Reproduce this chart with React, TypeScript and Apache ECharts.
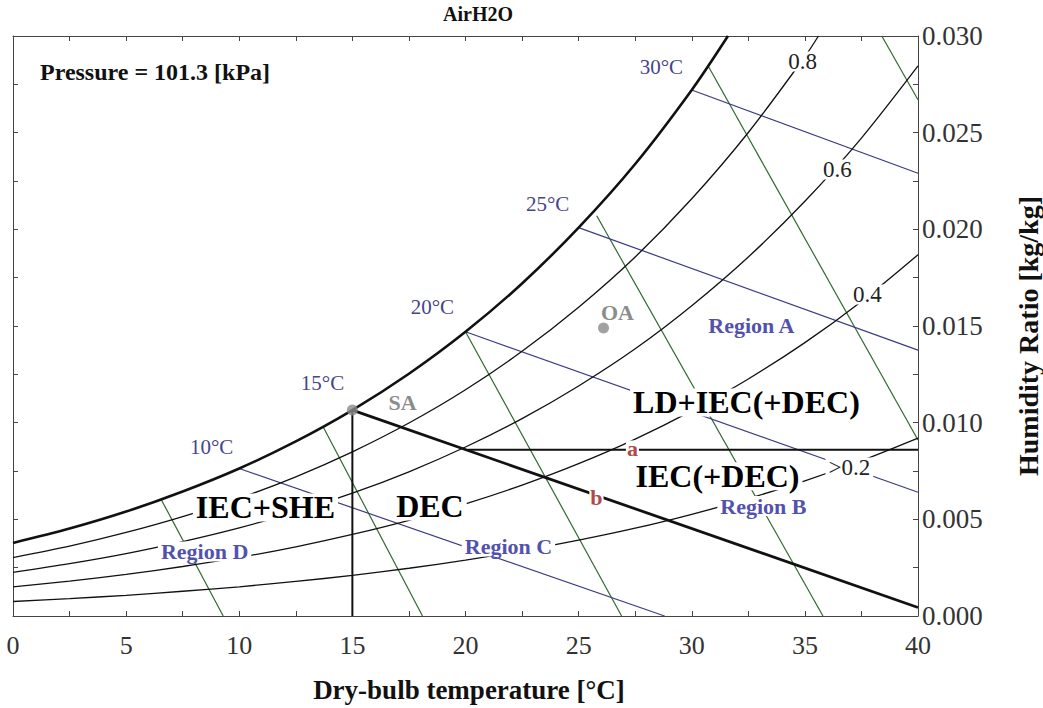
import React, { useEffect, useRef } from "react";
import * as echarts from "echarts";

const FONT = '"Liberation Serif", "Times New Roman", serif';

// ---- Saturation curve (RH = 1.0) ----
const satT = [0, 2.5, 5, 7.5, 10, 12.5, 15, 17.5, 20, 22.5, 25, 27.5, 30, 31.6];
const satW = [0.00378, 0.00452, 0.0054, 0.00644, 0.00763, 0.00903, 0.01065, 0.01253, 0.0147, 0.0172, 0.02009, 0.02338, 0.02721, 0.03];

// ---- Relative humidity curves ----
const rhT = [0, 2.5, 5, 7.5, 10, 12.5, 15, 17.5, 20, 22.5, 25, 27.5, 30, 32.5, 35, 37.5, 40];
const rh80T = [0, 2.5, 5, 7.5, 10, 12.5, 15, 17.5, 20, 22.5, 25, 27.5, 30, 32.5, 35, 35.6];
const rh80W = [0.00302, 0.00361, 0.00432, 0.00514, 0.00609, 0.0072, 0.00849, 0.00998, 0.0117, 0.01369, 0.01597, 0.01857, 0.02158, 0.02501, 0.02893, 0.03];
const rh60W = [0.00226, 0.00271, 0.00323, 0.00385, 0.00456, 0.00539, 0.00635, 0.00746, 0.00874, 0.01021, 0.0119, 0.01382, 0.01605, 0.01857, 0.02145, 0.02472, 0.02845];
const rh40W = [0.00151, 0.0018, 0.00215, 0.00256, 0.00303, 0.00358, 0.00422, 0.00495, 0.0058, 0.00677, 0.00788, 0.00915, 0.01061, 0.01226, 0.01414, 0.01627, 0.01868];
const rh20W = [0.00075, 0.0009, 0.00107, 0.00128, 0.00151, 0.00179, 0.0021, 0.00247, 0.00289, 0.00337, 0.00392, 0.00454, 0.00526, 0.00607, 0.00699, 0.00803, 0.0092];

// ---- Wet-bulb lines (blue) ----
const wb10 = [[10, 0.00763], [28.8, 0]];
const wb20 = [[20, 0.0147], [40, 0.0064]];
const wb25 = [[25, 0.02009], [40, 0.01375]];
const wb30 = [[30, 0.02721], [40, 0.0229]];

// ---- Specific volume lines (green) ----
const v800 = [[6.55, 0.00603], [9.29, 0]];
const v825 = [[13.7, 0.0098], [18.1, 0]];
const v850 = [[20.0, 0.0147], [26.9, 0]];
const v875 = [[25.8, 0.0207], [35.8, 0]];
const v900 = [[30.75, 0.0284], [40, 0.0091]];
const v925 = [[38.4, 0.03], [40, 0.0267]];

// ---- Process lines ----
const saLine = [[15, 0.01065], [40, 0.00044]];
const verticalLine = [[15, 0.01065], [15, 0]];
const horizontalLine = [[20.1, 0.0086], [40, 0.0086]];

// ---- State points ----
const statePoints = [
  { name: "SA", value: [15, 0.01065] },
  { name: "OA", value: [26.1, 0.0149] },
];

// ---- Text annotations (data coordinates) ----
const bigLabels = [
  { name: "IEC+SHE", value: [11.18, 0.00559] },
  { name: "DEC", value: [18.45, 0.00564] },
  { name: "LD+IEC(+DEC)", value: [32.44, 0.01102] },
  { name: "IEC(+DEC)", value: [31.16, 0.0072] },
];
const regionLabels = [
  { name: "Region A", value: [32.66, 0.0150] },
  { name: "Region B", value: [33.19, 0.00566] },
  { name: "Region C", value: [21.92, 0.00357] },
  { name: "Region D", value: [8.49, 0.00331] },
];
const pointLetters = [
  { name: "a", value: [27.4, 0.00864] },
  { name: "b", value: [25.81, 0.0061] },
];
const stateLabels = [
  { name: "SA", value: [17.24, 0.01102] },
  { name: "OA", value: [26.74, 0.01567] },
];
const rhLabels = [
  { name: "0.8", value: [34.92, 0.02866] },
  { name: "0.6", value: [36.46, 0.02307] },
  { name: "0.4", value: [37.79, 0.0166] },
  { name: ">0.2", value: [36.99, 0.00766] },
];
const wbLabels = [
  { name: "10°C", value: [8.8, 0.00869] },
  { name: "15°C", value: [13.7, 0.01205] },
  { name: "20°C", value: [18.56, 0.01598] },
  { name: "25°C", value: [23.65, 0.02126] },
  { name: "30°C", value: [28.68, 0.02835] },
];

const xTicks = [0, 5, 10, 15, 20, 25, 30, 35, 40];

const zip = (xs: number[], ys: number[]) => xs.map((x, i) => [x, ys[i]]);

const BLACK = "#111";
const BLUE = "#3b3b85";
const GREEN = "#2f6a2f";

function lineSeries(data: number[][], color: string, width: number, smooth = false) {
  return {
    type: "line",
    data,
    symbol: "none",
    showSymbol: false,
    smooth: smooth ? 0.3 : false,
    lineStyle: { color, width },
    silent: true,
    z: 2,
  };
}

function labelSeries(data: any[], style: any) {
  return {
    type: "scatter",
    data,
    symbolSize: 1,
    itemStyle: { color: "#fff", opacity: 0 },
    silent: true,
    z: 10,
    label: {
      show: true,
      position: [0, 0],
      align: "center",
      verticalAlign: "middle",
      formatter: "{b}",
      fontFamily: FONT,
      backgroundColor: "#fff",
      padding: [0, 3],
      opacity: 1,
      ...style,
    },
  };
}

export default function App() {
  const ref = useRef<HTMLDivElement>(null);
  useEffect(() => {
    document.body.style.margin = "0";
    const chart = echarts.init(ref.current!, null, { renderer: "svg" });
    const axisLineStyle = { color: "#444", width: 1 };
    const xBase = {
      type: "value",
      min: 0,
      max: 40,
      interval: 2.5,
      axisLine: { show: true, onZero: false, lineStyle: axisLineStyle },
      axisTick: { show: true, inside: true, length: 5, lineStyle: axisLineStyle },
      splitLine: { show: false },
    };
    const yBase = {
      type: "value",
      min: 0,
      max: 0.03,
      interval: 0.0025,
      axisLine: { show: true, onZero: false, lineStyle: axisLineStyle },
      axisTick: { show: true, inside: true, length: 5, lineStyle: axisLineStyle },
      splitLine: { show: false },
    };
    chart.setOption({
      animation: false,
      backgroundColor: "#fff",
      grid: { left: 13, top: 36, width: 905, height: 580 },
      xAxis: [
        {
          ...xBase,
          position: "bottom",
          axisLabel: {
            formatter: (v: number) => (xTicks.includes(v) ? String(v) : ""),
            fontFamily: FONT,
            fontSize: 26,
            color: "#333",
            margin: 16,
          },
        },
        { ...xBase, position: "top", axisLabel: { show: false } },
      ],
      yAxis: [
        {
          ...yBase,
          position: "right",
          axisLabel: {
            formatter: (v: number) => (Math.round(v * 10000) % 50 === 0 ? v.toFixed(3) : ""),
            fontFamily: FONT,
            fontSize: 27,
            color: "#333",
            margin: 4,
          },
        },
        { ...yBase, position: "left", axisLabel: { show: false } },
      ],
      graphic: [
        {
          type: "text",
          x: 478,
          y: 14,
          style: { text: "AirH2O", font: `bold 20px ${FONT}`, fill: "#111", align: "center", verticalAlign: "middle" },
          silent: true,
        },
        {
          type: "text",
          left: 40,
          top: 60,
          style: { text: "Pressure = 101.3 [kPa]", font: `bold 24px ${FONT}`, fill: "#111" },
          silent: true,
        },
        {
          type: "text",
          x: 469,
          y: 690,
          style: {
            text: "Dry-bulb temperature [°C]",
            font: `bold 27px ${FONT}`,
            fill: "#111",
            align: "center",
            verticalAlign: "middle",
          },
          silent: true,
        },
        {
          type: "text",
          x: 1028,
          y: 336,
          rotation: Math.PI / 2,
          style: {
            text: "Humidity Ratio [kg/kg]",
            font: `bold 28px ${FONT}`,
            fill: "#111",
            align: "center",
            verticalAlign: "middle",
          },
          silent: true,
        },
      ],
      series: [
        lineSeries(v800, GREEN, 1.2),
        lineSeries(v825, GREEN, 1.2),
        lineSeries(v850, GREEN, 1.2),
        lineSeries(v875, GREEN, 1.2),
        lineSeries(v900, GREEN, 1.2),
        lineSeries(v925, GREEN, 1.2),
        lineSeries(wb10, BLUE, 1.2),
        lineSeries(wb20, BLUE, 1.2),
        lineSeries(wb25, BLUE, 1.2),
        lineSeries(wb30, BLUE, 1.2),
        lineSeries(zip(rh80T, rh80W), BLACK, 1.3, true),
        lineSeries(zip(rhT, rh60W), BLACK, 1.3, true),
        lineSeries(zip(rhT, rh40W), BLACK, 1.3, true),
        lineSeries(zip(rhT, rh20W), BLACK, 1.3, true),
        lineSeries(zip(satT, satW), BLACK, 2.6, true),
        lineSeries(horizontalLine, BLACK, 1.8),
        lineSeries(verticalLine, BLACK, 2),
        lineSeries(saLine, BLACK, 2.8),
        {
          type: "scatter",
          data: statePoints,
          symbolSize: 11,
          itemStyle: { color: "#8a8a8a" },
          silent: true,
          z: 11,
        },
        labelSeries(bigLabels, { fontSize: 32, fontWeight: "bold", color: "#000", lineHeight: 28 }),
        labelSeries(regionLabels, { fontSize: 22, fontWeight: "bold", color: "#5252ae", lineHeight: 20 }),
        labelSeries(pointLetters, { fontSize: 22, fontWeight: "bold", color: "#b24848", lineHeight: 16, padding: [0, 1] }),
        labelSeries(stateLabels, { fontSize: 22, fontWeight: "bold", color: "#8c8c8c", lineHeight: 20, backgroundColor: "transparent" }),
        labelSeries(rhLabels, { fontSize: 23, color: "#222", lineHeight: 20 }),
        labelSeries(wbLabels, { fontSize: 21, color: "#45458a", lineHeight: 20, backgroundColor: "transparent" }),
      ],
    });
    return () => chart.dispose();
  }, []);
  return <div ref={ref} style={{ width: 1043, height: 708 }} />;
}
